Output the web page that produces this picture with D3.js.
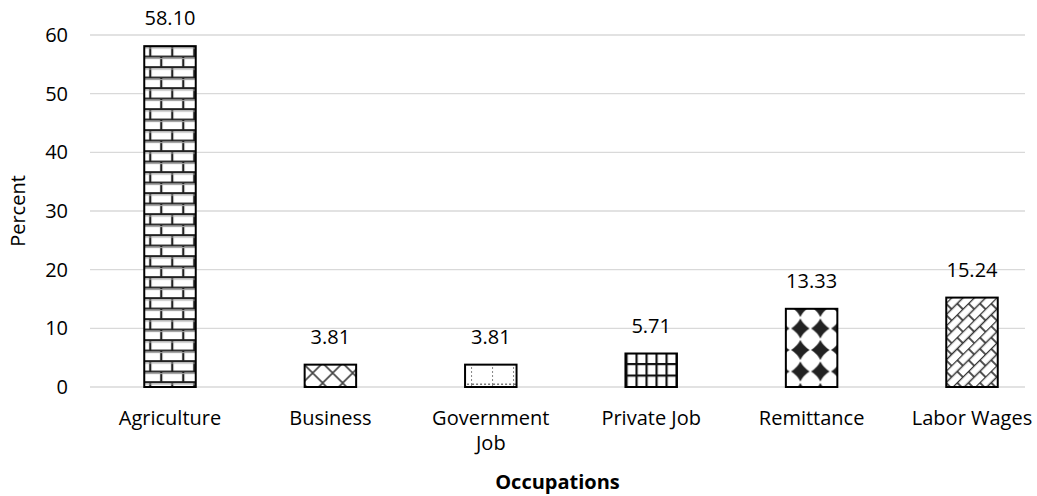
<!DOCTYPE html>
<html>
<head>
<meta charset="utf-8">
<script src="https://cdn.jsdelivr.net/npm/d3@7"></script>
<style>
  body { margin: 0; background: #fff; }
  text { font-family: "Open Sans", sans-serif; fill: #000; }
</style>
</head>
<body>
<svg id="chart" width="1037" height="496"></svg>
<script>
const categories = ["Agriculture", "Business", "Government Job", "Private Job", "Remittance", "Labor Wages"];
const values = [58.10, 3.81, 3.81, 5.71, 13.33, 15.24];
const valueLabels = ["58.10", "3.81", "3.81", "5.71", "13.33", "15.24"];
const yTicks = [0, 10, 20, 30, 40, 50, 60];
const patternIds = ["brick", "diagcross", "dotgrid", "smallgrid", "diamond", "diagbrick"];

const svg = d3.select("#chart");
const W = 1037, H = 496;
const plot = { left: 90, right: 1025, top: 35, bottom: 387 };
const FS = "20px";

// category bands run slightly past the right end of the gridlines
const x = d3.scaleBand().domain(categories).range([89.8, 1052.2]).paddingInner(0.679).paddingOuter(0.3395);
const y = d3.scaleLinear().domain([0, 60]).range([plot.bottom, plot.top]);
const y0 = y(0);

// Fill patterns for each bar
const defs = svg.append("defs");
function pat(id, w, h, ox = 0, oy = 0) {
  const p = defs.append("pattern").attr("id", id).attr("patternUnits", "userSpaceOnUse")
    .attr("x", ox).attr("y", oy).attr("width", w).attr("height", h);
  p.append("rect").attr("width", w).attr("height", h).attr("fill", "#fff");
  return p;
}
// horizontal bricks
{
  const p = pat("brick", 22, 21, x("Agriculture"), y(values[0]) - 1);
  p.append("path").attr("d", "M0,1 H22 M0,11.5 H22 M6,1 V11.5 M17,11.5 V22")
    .attr("stroke", "#222").attr("stroke-width", 2.2).attr("fill", "none");
  p.append("path").attr("d", "M0,3 H22 M0,13.5 H22")
    .attr("stroke", "#aaa").attr("stroke-width", 1.2).attr("fill", "none");
}
// wide diagonal cross
{
  const p = pat("diagcross", 20, 20, x("Business") - 2, y0 - 24);
  p.append("path").attr("d", "M0,0 L20,20 M20,0 L0,20")
    .attr("stroke", "#444").attr("stroke-width", 1.6).attr("fill", "none");
}
// dotted grid: one horizontal dotted line near the base, sparse vertical dotted lines
{
  const p = pat("dotgrid", 21, 22, x("Government Job") - 14, y0 - 24);
  p.append("path").attr("d", "M21,0 V22 M0,21.5 H21")
    .attr("stroke", "#777").attr("stroke-width", 1.8).attr("stroke-dasharray", "2,2").attr("fill", "none");
}
// small grid
{
  const p = pat("smallgrid", 10, 11.5, x("Private Job"), y0 - 1);
  p.append("path").attr("d", "M1,0 V11.5 M0,1 H10")
    .attr("stroke", "#111").attr("stroke-width", 2.4).attr("fill", "none");
}
// solid diamonds
{
  const p = pat("diamond", 20, 21.5, x("Remittance") + 4.5, y0 - 47.75);
  p.append("path").attr("d", "M10,0.8 Q13.1,6.9 19.2,10.75 Q13.1,14.6 10,20.7 Q6.9,14.6 0.8,10.75 Q6.9,6.9 10,0.8 Z")
    .attr("fill", "#222");
}
// diagonal bricks
{
  const p = pat("diagbrick", 16, 16, x("Labor Wages"), y0);
  p.attr("patternTransform", "rotate(-45)");
  p.append("path").attr("d", "M0,0.5 H16 M0,8.5 H16 M4,0.5 V8.5 M12,8.5 V16.5")
    .attr("stroke", "#333").attr("stroke-width", 1.7).attr("fill", "none");
}

// gridlines
svg.append("g").selectAll("line").data(yTicks).join("line")
  .attr("x1", plot.left).attr("x2", plot.right)
  .attr("y1", d => y(d)).attr("y2", d => y(d))
  .attr("stroke", "#d9d9d9").attr("stroke-width", 1.3);

// y tick labels
const yAxis = svg.append("g").attr("transform", `translate(${plot.left - 22},0)`)
  .call(d3.axisLeft(y).tickValues(yTicks).tickSize(0).tickPadding(0));
yAxis.select(".domain").remove();
yAxis.selectAll("text").style("font-family", "'Open Sans', sans-serif").style("font-size", FS).attr("fill", "#000");

// bars
svg.append("g").selectAll("rect").data(categories).join("rect")
  .attr("x", d => x(d))
  .attr("width", x.bandwidth())
  .attr("y", (d, i) => y(values[i]))
  .attr("height", (d, i) => y0 - y(values[i]))
  .attr("fill", (d, i) => `url(#${patternIds[i]})`)
  .attr("stroke", "#000").attr("stroke-width", 2);

// value labels
svg.append("g").selectAll("text").data(categories).join("text")
  .attr("x", d => x(d) + x.bandwidth() / 2)
  .attr("y", (d, i) => y(values[i]) - 21)
  .attr("text-anchor", "middle").style("font-size", FS)
  .text((d, i) => valueLabels[i]);

// category labels, wrapping the long one onto two lines
const xAxis = svg.append("g").attr("transform", `translate(0,${y0})`)
  .call(d3.axisBottom(x).tickSize(0).tickPadding(0));
xAxis.select(".domain").remove();
xAxis.selectAll("text").style("font-family", "'Open Sans', sans-serif").style("font-size", FS).attr("fill", "#000")
  .attr("y", 38).attr("dy", null)
  .each(function(d) {
    if (d === "Government Job") {
      const t = d3.select(this);
      t.text(null);
      t.append("tspan").attr("x", 0).text("Government");
      t.append("tspan").attr("x", 0).attr("dy", 25).text("Job");
    }
  });

// axis titles
svg.append("text").attr("x", (plot.left + plot.right) / 2).attr("y", 489)
  .attr("text-anchor", "middle").style("font-size", FS).style("font-weight", "bold").text("Occupations");
svg.append("text").attr("transform", `translate(25,${(y0 + y(60)) / 2}) rotate(-90)`)
  .attr("text-anchor", "middle").style("font-size", FS).text("Percent");
</script>
</body>
</html>
